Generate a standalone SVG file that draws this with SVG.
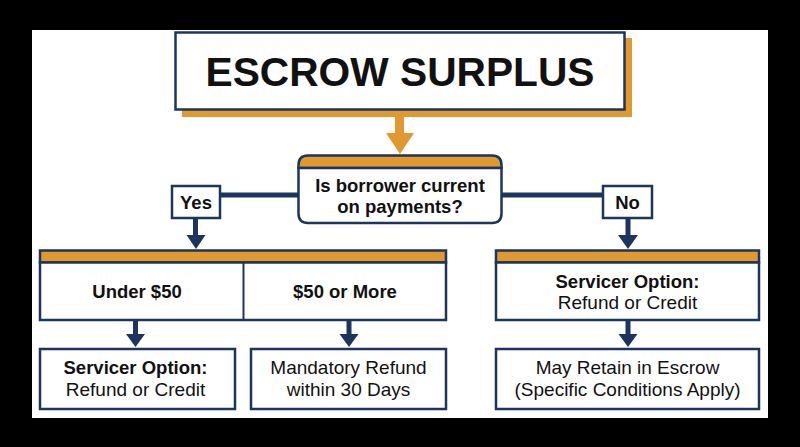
<svg xmlns="http://www.w3.org/2000/svg" width="800" height="447" viewBox="0 0 800 447">
<defs>
<style>
.box{fill:#ffffff;stroke:#1c355e;stroke-width:2.5}
.band{fill:#e0982f;stroke:#1c355e;stroke-width:2.5}
.ln{stroke:#1c355e;stroke-width:5;fill:none}
.ah{fill:#1c355e}
.t{font-family:"Liberation Sans",Arial,sans-serif;fill:#111111;text-anchor:middle}
.b{font-weight:bold;font-size:18.5px}
.r{font-size:19px}
</style>
</defs>
<rect x="0" y="0" width="800" height="447" fill="#000000"/>
<rect x="32" y="30" width="736" height="388" fill="#ffffff"/>
<g id="title">
<rect x="182" y="38" width="450" height="79" fill="#e0982f"/>
<rect x="175.5" y="32.5" width="449" height="77" class="box"/>
<text x="400" y="86" class="t" font-weight="bold" font-size="40.5" textLength="389" lengthAdjust="spacingAndGlyphs">ESCROW SURPLUS</text>
</g>
<g id="connectors">
<rect x="395" y="116" width="9" height="18" fill="#e0982f"/>
<polygon points="386,133 414,133 400,154" fill="#e0982f"/>
<line x1="220" y1="195" x2="298" y2="195" class="ln"/>
<line x1="502" y1="195" x2="603" y2="195" class="ln"/>
<line x1="195.5" y1="218" x2="195.5" y2="237" class="ln"/>
<polygon points="186.5,235 205.5,235 196,249" class="ah"/>
<line x1="628" y1="218" x2="628" y2="237" class="ln"/>
<polygon points="618,235 638,235 628,249" class="ah"/>
<line x1="135.5" y1="320" x2="135.5" y2="336" class="ln"/>
<polygon points="126,334 145,334 135.5,347" class="ah"/>
<line x1="349" y1="320" x2="349" y2="336" class="ln"/>
<polygon points="339.5,334 358.5,334 349,347" class="ah"/>
<line x1="628" y1="320" x2="628" y2="336" class="ln"/>
<polygon points="618.5,334 637.5,334 628,347" class="ah"/>
</g>
<g id="decision">
<path d="M298.5,168 V165 Q298.5,155.5 308,155.5 H492 Q501.5,155.5 501.5,165 V168 Z" class="band"/>
<path d="M298.5,168 H501.5 V213.5 Q501.5,223 492,223 H308 Q298.5,223 298.5,213.5 Z" class="box"/>
<text x="400" y="192" class="t b">Is borrower current</text>
<text x="400" y="213" class="t b">on payments?</text>
</g>
<g id="yes">
<rect x="172" y="186" width="48" height="32" class="box"/>
<text x="196" y="208.5" class="t b" font-size="18">Yes</text>
</g>
<g id="no">
<rect x="603" y="186" width="49" height="32" class="box"/>
<text x="627.5" y="208.5" class="t b" font-size="18">No</text>
</g>
<g id="amount">
<rect x="40" y="250.5" width="406" height="12" class="band"/>
<rect x="40" y="262.5" width="406" height="57.5" class="box"/>
<line x1="243.5" y1="262.5" x2="243.5" y2="320" stroke="#1c355e" stroke-width="2"/>
</g>
<g id="under50">
<text x="137" y="298" class="t b">Under $50</text>
</g>
<g id="over50">
<text x="345" y="298" class="t b">$50 or More</text>
</g>
<g id="servicer-no">
<rect x="496" y="250.5" width="263" height="12" class="band"/>
<rect x="496" y="262.5" width="263" height="57.5" class="box"/>
<text x="627.5" y="288" class="t b">Servicer Option:</text>
<text x="627.5" y="308.5" class="t r">Refund or Credit</text>
</g>
<g id="servicer-yes">
<rect x="40" y="349" width="195" height="60" class="box"/>
<text x="135.5" y="374" class="t b">Servicer Option:</text>
<text x="135.5" y="395.5" class="t r">Refund or Credit</text>
</g>
<g id="mandatory">
<rect x="251" y="349" width="195" height="60" class="box"/>
<text x="348.5" y="374" class="t r">Mandatory Refund</text>
<text x="348.5" y="395.5" class="t r">within 30 Days</text>
</g>
<g id="retain">
<rect x="496" y="349" width="263" height="60" class="box"/>
<text x="627.5" y="374" class="t r">May Retain in Escrow</text>
<text x="627.5" y="395.5" class="t r">(Specific Conditions Apply)</text>
</g>
</svg>
